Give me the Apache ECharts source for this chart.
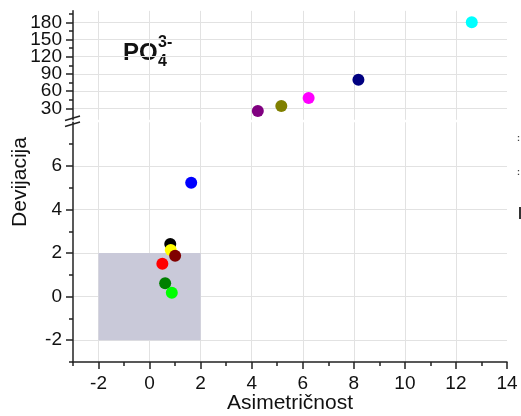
<!DOCTYPE html>
<html>
<head>
<meta charset="utf-8">
<style>html,body{margin:0;padding:0;background:#fff;}#c{width:521px;height:416px;}</style>
<script src="https://cdn.jsdelivr.net/npm/echarts@6/dist/echarts.min.js"></script>
</head>
<body>
<div id="c"></div>
<script>
// ---- data ----
const asym = [12.62, 8.18, 6.23, 5.16, 4.24, 1.63, 0.81, 0.83, 1.00, 0.50, 0.61, 0.87];
const dev  = [180, 80, 48, 34, 25.5, 5.23, 2.42, 2.14, 1.88, 1.51, 0.61, 0.18];
const colors = ['#00FFFF','#000080','#FF00FF','#808000','#800080','#0000FF','#000000','#FFFF00','#800000','#FF0000','#008000','#00FF00'];
const xMajor = [-2, 0, 2, 4, 6, 8, 10, 12, 14];
const xMinor = [-3, -1, 1, 3, 5, 7, 9, 11, 13];
const xGrid = [-2, 0, 2, 4, 6, 8, 10, 12];
const yLowMajor = [-2, 0, 2, 4, 6];
const yLowMinor = [-3, -1, 1, 3, 5, 7];
const yUpMajor = [30, 60, 90, 120, 150, 180];
const yUpMinor = [45, 75, 105, 135, 165, 195];
const shadeBox = {x: [-2, 2], y: [-2, 2]};
const breakValue = 9;

const FONT = 'Liberation Sans, Arial, sans-serif';
const AX = '#222';
const GRIDC = '#e2e2e2';
const LBL = 19;
const lblCommon = {fontFamily: FONT, fontSize: LBL, color: '#111', hideOverlap: false, showMinLabel: true, showMaxLabel: true};

const upperData = [], lowerData = [];
asym.forEach((x, i) => {
  const d = {value: [x, dev[i]], itemStyle: {color: colors[i], opacity: 1}};
  (dev[i] > breakValue ? upperData : lowerData).push(d);
});
// split upper labels into two alternating sets so none are dropped for overlap
const yUpLblA = yUpMajor.filter((v, i) => i % 2 === 0);
const yUpLblB = yUpMajor.filter((v, i) => i % 2 === 1);

const chart = echarts.init(document.getElementById('c'), null, {renderer: 'canvas'});
const L = 73, R = 14;
const upLblAxis = (vals) => ({gridIndex: 0, type: 'value', min: 10, max: 200, position: 'left',
  axisLine: {show: false, onZero: false}, axisTick: {show: false},
  axisLabel: Object.assign({show: true, customValues: vals, margin: 11}, lblCommon),
  splitLine: {show: false}});
const option = {
  animation: false,
  backgroundColor: '#fff',
  grid: [
    {left: L, right: R, top: 10.85, height: 108.95, outerBoundsMode: 'none', containLabel: false},
    {left: L, right: R, top: 122.3, height: 239.7, outerBoundsMode: 'none', containLabel: false}
  ],
  xAxis: [
    {gridIndex: 0, type: 'value', min: -3, max: 14, position: 'bottom',
     axisLine: {show: false}, axisLabel: {show: false},
     axisTick: {show: false, customValues: xGrid},
     splitLine: {show: true, lineStyle: {color: GRIDC, width: 1}}},
    {gridIndex: 1, type: 'value', min: -3, max: 14, position: 'bottom',
     axisLine: {show: true, onZero: false, lineStyle: {color: AX, width: 1.5}},
     axisTick: {show: false, customValues: xGrid},
     axisLabel: {show: false},
     splitLine: {show: true, lineStyle: {color: GRIDC, width: 1}},
     name: 'Asimetričnost', nameLocation: 'middle', nameGap: 31,
     nameTextStyle: {fontFamily: FONT, fontSize: 21, color: '#111'}},
    {gridIndex: 1, type: 'value', min: -3, max: 14, position: 'bottom',
     axisLine: {show: false, onZero: false},
     axisTick: {show: true, length: 7, customValues: xMajor, lineStyle: {color: AX, width: 1.5}},
     axisLabel: Object.assign({show: true, customValues: xMajor, margin: 12}, lblCommon),
     splitLine: {show: false}},
    {gridIndex: 1, type: 'value', min: -3, max: 14, position: 'bottom',
     axisLine: {show: false, onZero: false},
     axisTick: {show: true, length: 4, customValues: xMinor, lineStyle: {color: AX, width: 1.5}},
     axisLabel: {show: false}, splitLine: {show: false}}
  ],
  yAxis: [
    {gridIndex: 0, type: 'value', min: 10, max: 200, position: 'left',
     axisLine: {show: true, onZero: false, lineStyle: {color: AX, width: 1.5}},
     axisTick: {show: true, length: 7, customValues: yUpMajor, lineStyle: {color: AX, width: 1.5}},
     axisLabel: {show: false},
     splitLine: {show: true, lineStyle: {color: GRIDC, width: 1}}},
    {gridIndex: 0, type: 'value', min: 10, max: 200, position: 'left',
     axisLine: {show: false, onZero: false},
     axisTick: {show: true, length: 4, customValues: yUpMinor, lineStyle: {color: AX, width: 1.5}},
     axisLabel: {show: false}, splitLine: {show: false}},
    {gridIndex: 1, type: 'value', min: -3, max: 8, position: 'left',
     axisLine: {show: true, onZero: false, lineStyle: {color: AX, width: 1.5}},
     axisTick: {show: true, length: 7, customValues: yLowMajor, lineStyle: {color: AX, width: 1.5}},
     axisLabel: Object.assign({show: true, customValues: yLowMajor, margin: 11}, lblCommon),
     splitLine: {show: true, lineStyle: {color: GRIDC, width: 1}}},
    {gridIndex: 1, type: 'value', min: -3, max: 8, position: 'left',
     axisLine: {show: false, onZero: false},
     axisTick: {show: true, length: 4, customValues: yLowMinor, lineStyle: {color: AX, width: 1.5}},
     axisLabel: {show: false}, splitLine: {show: false}},
    upLblAxis(yUpLblA),
    upLblAxis(yUpLblB)
  ],
  series: [
    {type: 'scatter', xAxisIndex: 1, yAxisIndex: 2, symbolSize: 12, data: lowerData, z: 3,
     markArea: {silent: true, itemStyle: {color: '#c9c9d9'}, z: 1,
       data: [[{coord: [shadeBox.x[0], shadeBox.y[0]]}, {coord: [shadeBox.x[1], shadeBox.y[1]]}]]}},
    {type: 'scatter', xAxisIndex: 0, yAxisIndex: 0, symbolSize: 12, data: upperData, z: 3}
  ],
  graphic: [
    {type: 'text', left: 123, top: 41, style: {text: 'PO', font: 'bold 24px ' + FONT, fill: '#111'}},
    {type: 'text', left: 158, top: 35, style: {text: '3-', font: 'bold 16px ' + FONT, fill: '#111'}},
    {type: 'text', left: 158, top: 54, style: {text: '4', font: 'bold 16px ' + FONT, fill: '#111'}},
    {type: 'text', x: 20, y: 182, rotation: Math.PI / 2,
     style: {text: 'Devijacija', font: '21px ' + FONT, fill: '#111', align: 'center', verticalAlign: 'middle'}},
    {type: 'line', shape: {x1: 65, y1: 120.5, x2: 80, y2: 116}, style: {stroke: AX, lineWidth: 1.5}},
    {type: 'line', shape: {x1: 65, y1: 126.5, x2: 80, y2: 122}, style: {stroke: AX, lineWidth: 1.5}},
    {type: 'text', left: 517, top: 134, style: {text: ':', font: 'bold 9px ' + FONT, fill: '#444'}},
    {type: 'text', left: 517, top: 168, style: {text: ':', font: 'bold 9px ' + FONT, fill: '#444'}},
    {type: 'rect', shape: {x: 519, y: 207, width: 2, height: 12}, style: {fill: '#333'}}
  ]
};
chart.setOption(option);
</script>
</body>
</html>
